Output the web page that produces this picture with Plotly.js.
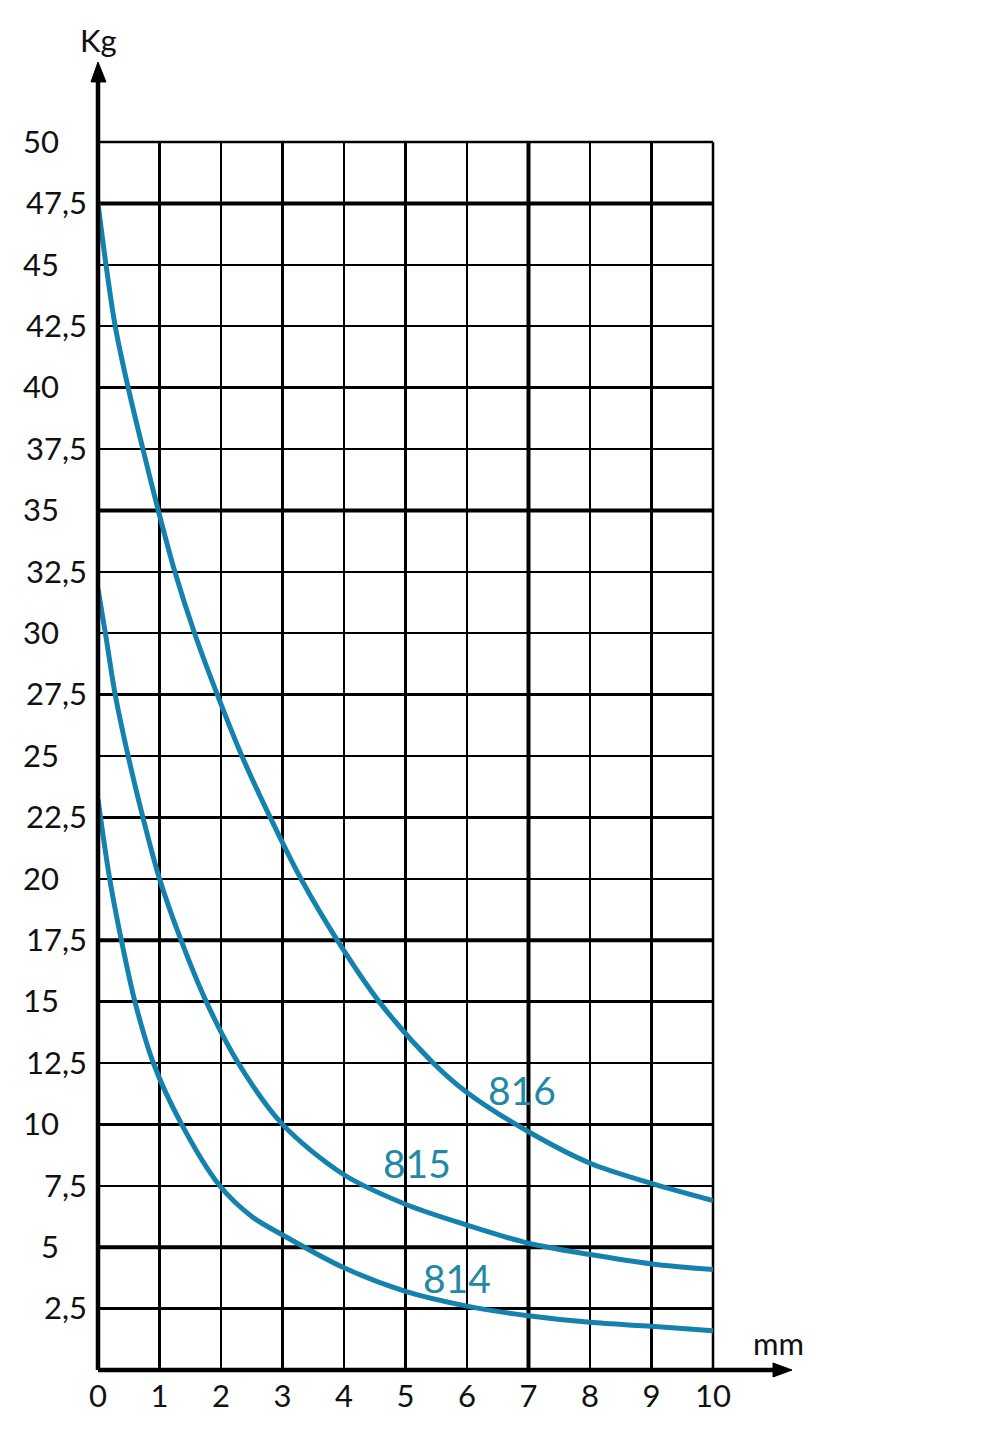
<!DOCTYPE html>
<html>
<head>
<meta charset="utf-8">
<script src="https://cdn.plot.ly/plotly-3.0.1.min.js"></script>
<style>html,body{margin:0;padding:0;background:#fff;}#chart{width:995px;height:1453px;}</style>
</head>
<body>
<div id="chart"></div>
<script>
// Data (x in mm, y in Kg)
const x816 = [0, 0.13, 0.28, 0.49, 0.73, 0.98, 1.25, 1.57, 1.94, 2.34, 2.8, 3.3, 3.89, 4.57, 5.45, 6, 7, 8, 9, 10];
const y816 = [47.5, 45, 42.5, 40, 37.5, 35, 32.5, 30, 27.5, 25, 22.5, 20, 17.5, 15, 12.5, 11.3, 9.7, 8.42, 7.6, 6.9];
const x815 = [0, 0.12, 0.28, 0.49, 0.73, 1.0, 1.35, 1.76, 2.28, 3.0, 4.0, 5, 6, 7, 8, 9, 10];
const y815 = [31.8, 30, 27.5, 25, 22.5, 20, 17.5, 15, 12.5, 10, 7.95, 6.75, 5.9, 5.16, 4.7, 4.32, 4.09];
const x814 = [0, 0.19, 0.38, 0.6, 0.9, 1.36, 1.98, 2.5, 3.0, 4, 5, 6, 7, 8, 9, 10];
const y814 = [23.24, 20, 17.5, 15, 12.5, 10, 7.5, 6.25, 5.5, 4.16, 3.2, 2.6, 2.21, 1.94, 1.78, 1.6];

const seriesNames = ['816', '815', '814'];
const labelX = [6.9, 5.19, 5.84];
const labelY = [11.4, 8.43, 3.75];

const xTickVals = [0,1,2,3,4,5,6,7,8,9,10];
const xTickText = ['0','1','2','3','4','5','6','7','8','9','10'];
const yIntVals = [5,10,15,20,25,30,35,40,45,50];
const yIntText = ['5','10','15','20','25','30','35','40','45','50'];
const yHalfVals = [2.5,7.5,12.5,17.5,22.5,27.5,32.5,37.5,42.5,47.5];
const yHalfText = ['2,5','7,5','12,5','17,5','22,5','27,5','32,5','37,5','42,5','47,5'];
const thickY = [47.5, 35, 17.5, 5];
const thickX = [7];

const curveColor = '#1582ad';
const labelColor = '#2387a6';
const fontFam = 'Lato, "Liberation Sans", Arial, sans-serif';

const xs = [x816, x815, x814];
const ys = [y816, y815, y814];
const traces = xs.map((xv, i) => ({
  x: xv, y: ys[i], type: 'scatter', mode: 'lines', name: seriesNames[i],
  line: {color: curveColor, width: 5, shape: 'spline', smoothing: 0.9},
  hoverinfo: 'skip', showlegend: false
}));
// invisible trace to activate y2
traces.push({x: [0], y: [0], yaxis: 'y2', mode: 'markers', marker: {opacity: 0}, showlegend: false, hoverinfo: 'skip'});

const shapes = [];
thickY.forEach(v => shapes.push({type: 'line', xref: 'paper', yref: 'y', x0: 0, x1: 1, y0: v, y1: v, line: {color: '#000', width: 4}, layer: 'below'}));
thickX.forEach(v => shapes.push({type: 'line', xref: 'x', yref: 'paper', x0: v, x1: v, y0: 0, y1: 1, line: {color: '#000', width: 4}, layer: 'below'}));
// frame top and right
shapes.push({type: 'line', xref: 'paper', yref: 'paper', x0: 0, x1: 1, y0: 1, y1: 1, line: {color: '#000', width: 2.5}, layer: 'below'});
shapes.push({type: 'line', xref: 'paper', yref: 'paper', x0: 1, x1: 1, y0: 0, y1: 1, line: {color: '#000', width: 2.5}, layer: 'below'});
// axis lines with arrows
shapes.push({type: 'line', xref: 'paper', yref: 'paper', x0: 0, x1: 0, y0: 0, y1: 1.052, line: {color: '#000', width: 4.5}});
shapes.push({type: 'line', xref: 'paper', yref: 'paper', x0: 0, x1: 1.1, y0: 0, y1: 0, line: {color: '#000', width: 4.5}});
shapes.push({type: 'path', xref: 'paper', yref: 'paper', path: 'M -0.0114 1.0489 L 0 1.0651 L 0.0130 1.0489 Z', fillcolor: '#000', line: {color: '#000', width: 1}});
shapes.push({type: 'path', xref: 'paper', yref: 'paper', path: 'M 1.0976 0.0057 L 1.1285 0 L 1.0976 -0.0057 Z', fillcolor: '#000', line: {color: '#000', width: 1}});

const annotations = seriesNames.map((n, i) => ({
  x: labelX[i], y: labelY[i], xref: 'x', yref: 'y', text: n, showarrow: false,
  xanchor: 'center', yanchor: 'middle',
  font: {family: fontFam, size: 39, color: labelColor, weight: 400}
}));
annotations.push({x: 0, y: 1.0831, xref: 'paper', yref: 'paper', text: 'Kg', showarrow: false, xanchor: 'center', yanchor: 'middle', font: {family: fontFam, size: 31, color: '#111', weight: 400}});
annotations.push({x: 1.1057, y: 0.022, xref: 'paper', yref: 'paper', text: 'mm', showarrow: false, xanchor: 'center', yanchor: 'middle', font: {family: fontFam, size: 31, color: '#111', weight: 400}});

const tickFont = {family: fontFam, size: 31, color: '#111', weight: 400};

const layout = {
  width: 995, height: 1453,
  margin: {l: 98, r: 282, t: 142, b: 83, pad: 0},
  paper_bgcolor: '#fff', plot_bgcolor: '#fff',
  showlegend: false,
  xaxis: {
    range: [0, 10], tickvals: xTickVals, ticktext: xTickText, tickfont: tickFont,
    showgrid: true, gridcolor: '#000', gridwidth: 2.5, zeroline: false, showline: false,
    ticks: '', ticklabelstandoff: 5, fixedrange: true
  },
  yaxis: {
    range: [0, 50], tickvals: yIntVals, ticktext: yIntText, tickfont: tickFont,
    showgrid: true, gridcolor: '#000', gridwidth: 2.5, zeroline: false, showline: false,
    ticks: '', ticklabelstandoff: 38, fixedrange: true
  },
  yaxis2: {
    range: [0, 50], overlaying: 'y', side: 'left', tickvals: yHalfVals, ticktext: yHalfText, tickfont: tickFont,
    showgrid: true, gridcolor: '#000', gridwidth: 2.5, zeroline: false, showline: false,
    ticks: '', ticklabelstandoff: 10, fixedrange: true
  },
  shapes: shapes,
  annotations: annotations
};

Plotly.newPlot('chart', traces, layout, {displayModeBar: false, staticPlot: true});
</script>
</body>
</html>
